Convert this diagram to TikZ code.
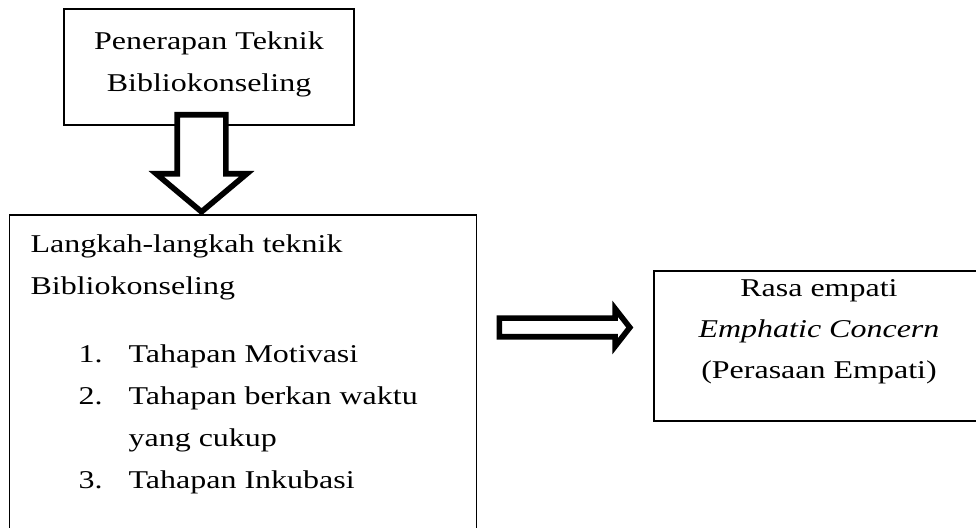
\documentclass[tikz,border=0pt]{standalone}
\usepackage{fontspec}
\setmainfont{Liberation Serif}
\usepackage{graphicx}
\usetikzlibrary{shapes.arrows}

\newcommand{\isi}[2]{\scalebox{1}[0.8]{\begin{tabular}[t]{@{}#1@{}}#2\end{tabular}}}
\newcommand{\butir}[2]{\hspace*{24pt}\makebox[25pt][l]{#1}#2}

\tikzset{
  kotak/.style={shape=rectangle,draw=black,line width=0.6pt,inner sep=0pt,
    font=\fontsize{16pt}{26.25pt}\selectfont},
  blok/.style={shape=single arrow,draw=black,fill=white,line width=2.8pt,
    inner xsep=0pt,single arrow head indent=0pt}
}

\begin{document}
\begin{tikzpicture}[x=0.5pt,y=-0.5pt]
    \clip (0,0) rectangle (976,528);

    \node[kotak,anchor=base,minimum width=145pt,text height=20.5pt,text depth=37.5pt] (atas) at (209,50)
        {\isi{c}{Penerapan Teknik\\Bibliokonseling}};
    \node[kotak,anchor=base west,inner xsep=10.5pt,text height=19pt,text depth=160pt] (langkah) at (9,253)
        {\makebox[212.5pt][l]{\isi{l}{Langkah-langkah teknik\\
            Bibliokonseling\\[16.25pt]
            \butir{1.}{Tahapan Motivasi}\\
            \butir{2.}{Tahapan berkan waktu}\\
            \hspace*{49pt}yang cukup\\
            \butir{3.}{Tahapan Inkubasi}}}};
    \node[kotak,anchor=base,minimum width=165pt,text height=13pt,text depth=62pt] (empati) at (819,297)
        {\renewcommand{\arraystretch}{0.97}\isi{c}{Rasa empati\\\textit{Emphatic Concern}\\(Perasaan Empati)}};

    % panah blok
    \node[blok,rotate=-90,anchor=tail,minimum height=48.5pt,inner ysep=10.75pt,
        single arrow head extend=10.5pt,single arrow tip angle=100] (turun) at (201.5,112) {};
    \node[blok,anchor=tail,minimum height=65.25pt,inner ysep=3.25pt,
        single arrow head extend=4.75pt,single arrow tip angle=104] (kanan) at (496.5,327.5) {};
\end{tikzpicture}
\end{document}
